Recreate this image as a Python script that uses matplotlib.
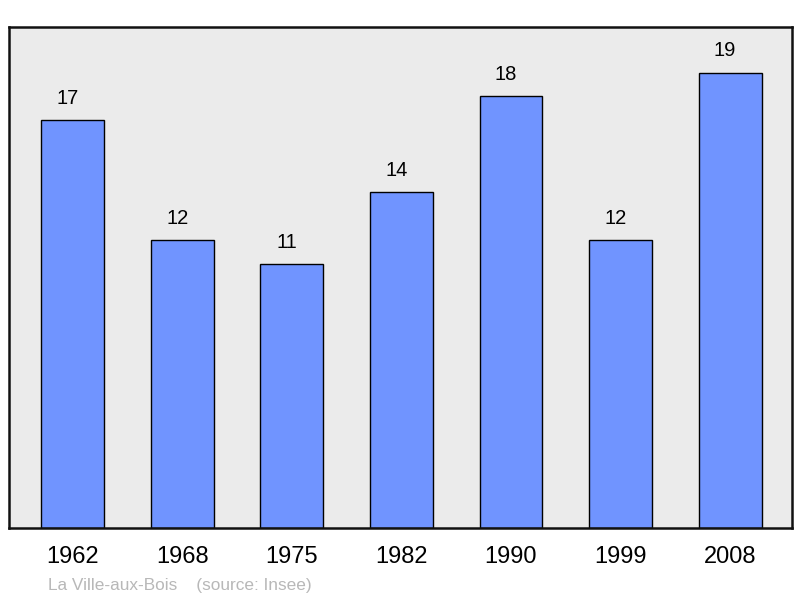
import matplotlib
matplotlib.use("Agg")
import matplotlib.pyplot as plt

years = ["1962", "1968", "1975", "1982", "1990", "1999", "2008"]
population = [17, 12, 11, 14, 18, 12, 19]
caption = "La Ville-aux-Bois    (source: Insee)"

plt.rcParams['font.family'] = ['Liberation Sans', 'DejaVu Sans']

fig = plt.figure(figsize=(8, 5.98), dpi=100)
ax = fig.add_axes([0.01125, 0.1171, 0.97875, 0.8378])
ax.set_facecolor("#ebebeb")

xs = list(range(len(years)))
ax.bar(xs, population, width=0.575, color="#7094ff", edgecolor="black", linewidth=1.0, zorder=2)

# value labels sit a little left of the bar centre
for x, v in zip(xs, population):
    ax.annotate(str(v), (x, v), xytext=(-3.6, 16), textcoords="offset points",
                ha="center", va="center", fontsize=14.5, color="black")

ax.set_xlim(-0.584, 6.566)
ax.set_ylim(0, 20.9)
ax.set_xticks(xs)
ax.set_xticklabels(years, fontsize=17)
ax.tick_params(axis="x", length=0, pad=13)
ax.set_yticks([])
for s in ax.spines.values():
    s.set_linewidth(1.8)
    s.set_color("#111111")

fig.text(0.06, 0.013, caption, fontsize=12.4, color="#b8b8b8", ha="left", va="baseline")

fig.savefig("out.png", dpi=100)
